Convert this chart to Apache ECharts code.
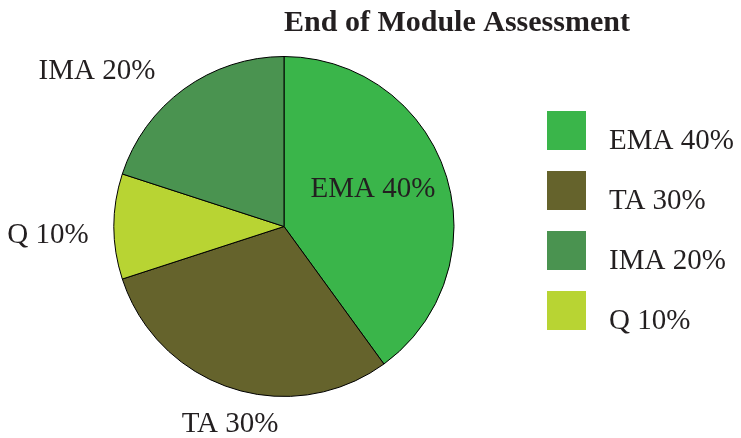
<!DOCTYPE html>
<html><head><meta charset="utf-8">
<script src="https://cdn.jsdelivr.net/npm/echarts@6/dist/echarts.min.js"></script>
<style>html,body{margin:0;padding:0;background:#fff}#c{width:741px;height:438px}</style>
</head><body><div id="c"></div>
<script>
const categories = ['EMA 40%', 'TA 30%', 'Q 10%', 'IMA 20%'];
const values = [40, 30, 10, 20];
const legendOrder = ['EMA 40%', 'TA 30%', 'IMA 20%', 'Q 10%'];
const colors = ['#3AB54A', '#65632C', '#B8D433', '#4A9350'];
const labelPos = [[373, 189], [230, 424], [48, 235], [97, 71]];

const chart = echarts.init(document.getElementById('c'));
const font = '"Liberation Serif", "DejaVu Serif", serif';
chart.setOption({
  animation: false,
  title: {
    text: 'End of Module Assessment',
    left: 452, top: 3, textAlign: 'center',
    textStyle: { fontFamily: font, fontWeight: 'bold', fontSize: 30, color: '#231F20' }
  },
  legend: {
    orient: 'vertical', left: 542, top: 106,
    itemWidth: 39, itemHeight: 39, itemGap: 15,
    icon: 'rect',
    itemStyle: { borderWidth: 0 },
    data: legendOrder,
    formatter: '{t|{name}}',
    textStyle: {
      fontFamily: font, fontSize: 29, color: '#231F20',
      rich: { t: { fontFamily: font, fontSize: 29, color: '#231F20', padding: [22, 0, 0, 18] } }
    }
  },
  series: [{
    type: 'pie',
    center: [284, 226.5],
    radius: 170,
    startAngle: 90,
    clockwise: true,
    data: categories.map((c, i) => ({ name: c, value: values[i], itemStyle: { color: colors[i] } })),
    itemStyle: { borderColor: '#000', borderWidth: 1 },
    label: { show: true, formatter: '{b}', fontFamily: font, fontSize: 29, color: '#231F20', overflow: 'none' },
    labelLine: { show: false },
    labelLayout: function (p) {
      return { x: labelPos[p.dataIndex][0], y: labelPos[p.dataIndex][1], align: 'center', verticalAlign: 'middle' };
    },
    emphasis: { disabled: true }
  }]
});
</script></body></html>
